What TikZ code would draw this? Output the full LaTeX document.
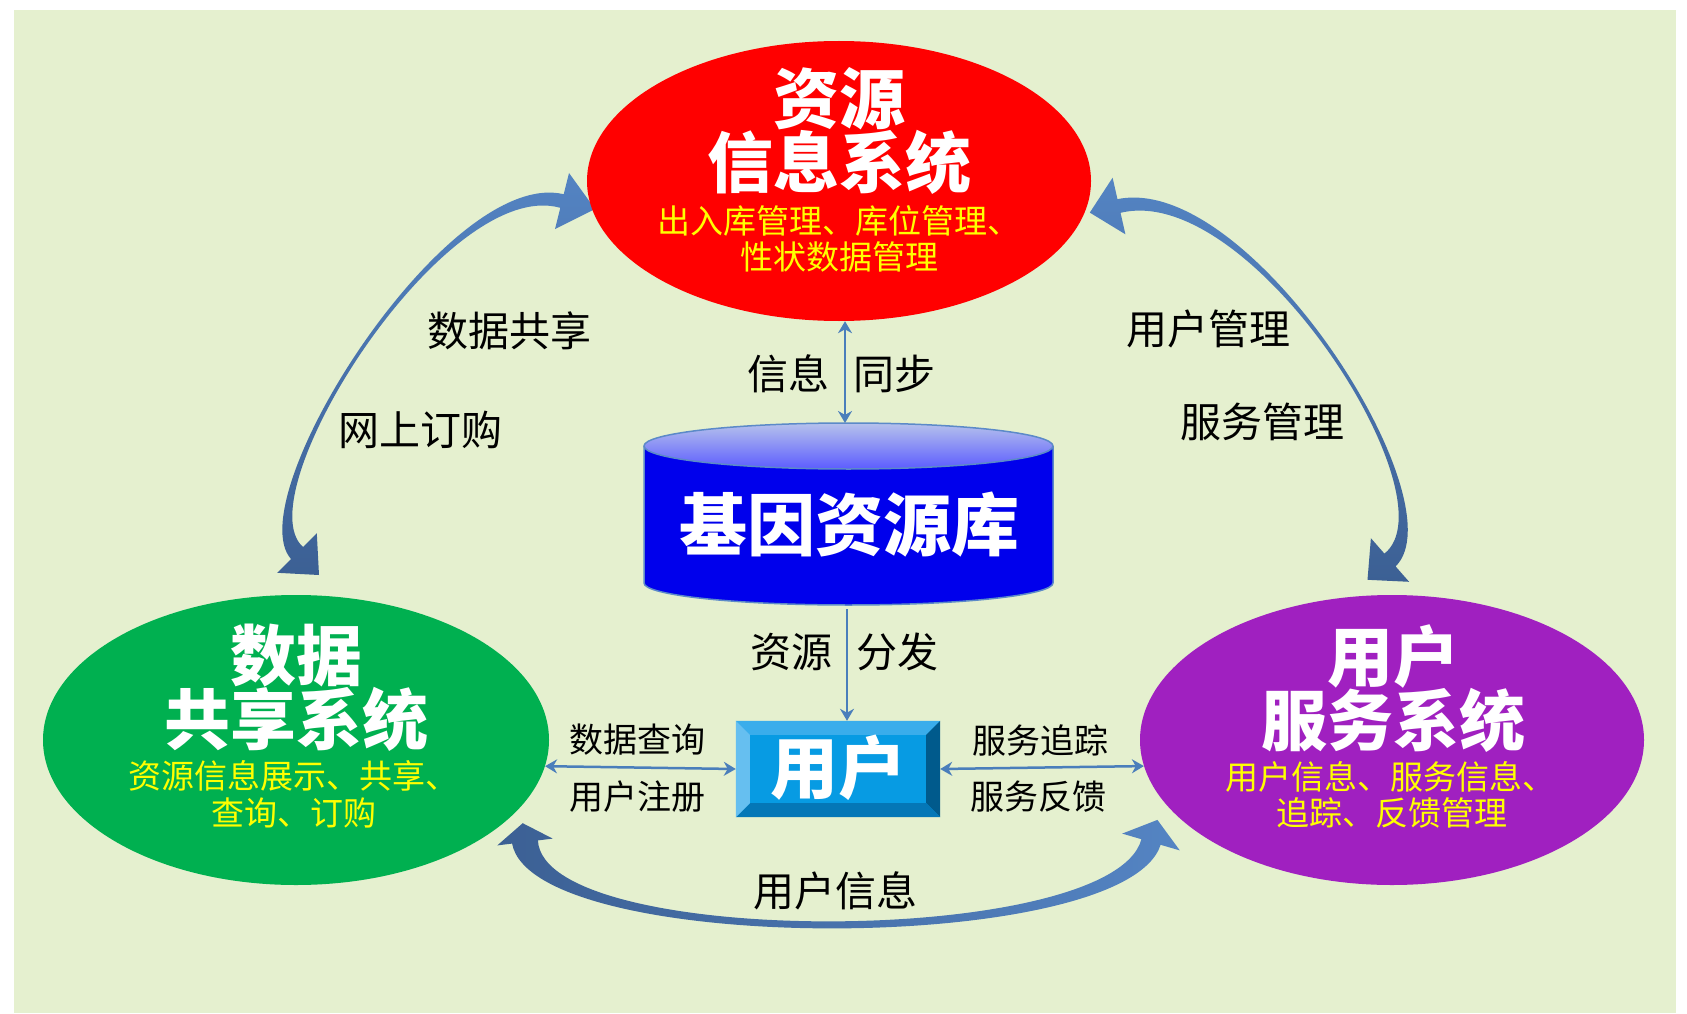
\documentclass[tikz,border=0pt]{standalone}
\usepackage{fontspec}
\newfontfamily\cjk{Noto Sans CJK SC}
\usetikzlibrary{arrows.meta,shapes.geometric,calc}
\definecolor{bg}{RGB}{229,240,207}
\definecolor{linkblue}{RGB}{74,126,187}
\definecolor{arclight}{RGB}{84,132,195}
\definecolor{arcdark}{RGB}{60,96,148}
\definecolor{sysred}{RGB}{255,0,0}
\definecolor{sysgreen}{RGB}{0,176,80}
\definecolor{syspurple}{RGB}{160,32,192}
\definecolor{subyellow}{RGB}{255,255,0}
\definecolor{cylblue}{RGB}{0,0,236}
\definecolor{cyltop}{RGB}{182,194,236}
\definecolor{cylmid}{RGB}{92,92,255}
\definecolor{cyledge}{RGB}{92,138,200}
\definecolor{boxface}{RGB}{7,155,227}
\definecolor{boxtop}{RGB}{58,173,235}
\definecolor{boxleft}{RGB}{102,191,240}
\definecolor{boxright}{RGB}{0,90,140}
\definecolor{boxbottom}{RGB}{4,119,183}
\begin{document}
\begin{tikzpicture}[x=1pt,y=-1pt,
  sys/.style={ellipse,inner sep=0pt,draw=none},
  ttl/.style={text=white,inner sep=0pt,font=\cjk\bfseries\fontsize{66pt}{66pt}\selectfont},
  subt/.style={text=subyellow,inner sep=0pt,font=\cjk\fontsize{33pt}{33pt}\selectfont},
  lbl/.style={text=black,inner sep=0pt,font=\cjk\fontsize{41pt}{41pt}\selectfont},
  slbl/.style={text=black,inner sep=0pt,font=\cjk\fontsize{34pt}{34pt}\selectfont},
  link/.style={draw=linkblue,line width=2.5pt,>={Stealth[length=12pt,width=14pt]}},
]
\useasboundingbox (0,0) rectangle (1687,1014);
\fill[white] (0,0) rectangle (1687,1014);
\fill[bg] (14,10) rectangle (1676,1013);

% big curved arrows
\shade[top color=arclight,bottom color=arcdark]
  (291,559) .. controls (237.2,498.35) and (446.5,166.56) .. (563.75,194.2)
  -- (560.25,207.8) .. controls (445.1,175.44) and (243.6,494.45) .. (303,547) -- cycle
  (277.2,572.8) -- (319,575) -- (316.8,533.2) -- cycle
  (569,173) -- (595,209) -- (555,229) -- cycle;
\shade[top color=arclight,bottom color=arcdark]
  (1395.6,566.4) .. controls (1460.57,502.59) and (1250.1,171.67) .. (1117.46,199.17)
  -- (1120.54,212.83) .. controls (1251.1,180.93) and (1454.43,498.61) .. (1384.4,553.6) -- cycle
  (1409.1,581.8) -- (1367.5,579.8) -- (1370.9,538.2) -- cycle
  (1112.6,177.7) -- (1089.8,212.6) -- (1125.4,234.3) -- cycle;
\shade[left color=arcdark,right color=arclight]
  (512.1,843.6) .. controls (533.3,956.6) and (1125.2,956.3) .. (1160.6,844.8)
  -- (1141.4,839.2) .. controls (1112.8,947.8) and (543.5,949.3) .. (537.9,840.4) -- cycle
  (497.3,845.4) -- (522.7,823.2) -- (552.7,838.6) -- cycle
  (1122.2,833.6) -- (1157.4,819.9) -- (1179.8,850.4) -- cycle;

% system ellipses
\node[sys,fill=sysred,minimum width=504pt,minimum height=280pt] (red) at (839,181) {};
\node[sys,fill=sysgreen,minimum width=506pt,minimum height=290pt] (green) at (296,740) {};
\node[sys,fill=syspurple,minimum width=504pt,minimum height=290pt] (purple) at (1392,740) {};

\node[ttl] (redt1) at (839,99) {资源};
\node[ttl] (redt2) at (839,162) {信息系统};
\node[subt] (reds1) at (839,221) {出入库管理、库位管理、};
\node[subt] (reds2) at (839,257) {性状数据管理};

\node[ttl] (greent1) at (296,656) {数据};
\node[ttl] (greent2) at (296,719) {共享系统};
\node[subt] (greens1) at (293,776) {资源信息展示、共享、};
\node[subt] (greens2) at (294,813) {查询、订购};

\node[ttl] (purt1) at (1393,657) {用户};
\node[ttl] (purt2) at (1393,720) {服务系统};
\node[subt] (purs1) at (1390,777) {用户信息、服务信息、};
\node[subt] (purs2) at (1392,813) {追踪、反馈管理};

% cylinder
\fill[cylblue] (644,446) rectangle (1053,583);
\fill[cylblue] (848.5,583) ellipse [x radius=204.5, y radius=22];
\shade[top color=cyltop,bottom color=cylmid] (848.5,446) ellipse [x radius=204.5, y radius=23];
\draw[cyledge,line width=1.5pt] (644,446) -- (644,583) arc[start angle=180,end angle=0,x radius=204.5,y radius=22] -- (1053,446);
\draw[cyledge,line width=1.5pt] (848.5,446) ellipse [x radius=204.5, y radius=23];
\node[ttl,font=\cjk\bfseries\fontsize{68pt}{68pt}\selectfont] (cyl) at (849,525) {基因资源库};
\coordinate (cyltop) at (845,423);
\coordinate (cylbot) at (847,609);

% user box
\node[rectangle,fill=boxface,minimum width=204pt,minimum height=96pt,inner sep=0pt] (ub) at (838,769) {};
\fill[boxtop] (ub.north west) -- (ub.north east) -- ($(ub.north east)+(-14,14)$) -- ($(ub.north west)+(14,14)$) -- cycle;
\fill[boxright] (ub.north east) -- (ub.south east) -- ($(ub.south east)+(-14,-14)$) -- ($(ub.north east)+(-14,14)$) -- cycle;
\fill[boxbottom] (ub.south east) -- (ub.south west) -- ($(ub.south west)+(14,-14)$) -- ($(ub.south east)+(-14,-14)$) -- cycle;
\fill[boxleft] (ub.south west) -- (ub.north west) -- ($(ub.north west)+(14,14)$) -- ($(ub.south west)+(14,-14)$) -- cycle;
\node[ttl,font=\cjk\bfseries\fontsize{68pt}{68pt}\selectfont] (ubt) at (838,768) {用户};

% thin connectors
\draw[link,<->] (red.south -| cyltop) -- (cyltop);
\draw[link,->] (cylbot) -- (cylbot |- ub.north);
\draw[link,<->] (green.-6.7) -- (ub.west);
\draw[link,<->] (ub.east) -- (purple.186.7);

% labels
\node[lbl] (l1) at (509,331) {数据共享};
\node[lbl] (l2) at (420,430) {网上订购};
\node[lbl] (l3) at (1208,329) {用户管理};
\node[lbl] (l4) at (1262,422) {服务管理};
\node[lbl] (l5) at (788,374) {信息};
\node[lbl] (l6) at (894,374) {同步};
\node[lbl] (l7) at (791,652) {资源};
\node[lbl] (l8) at (897,652) {分发};
\node[slbl] (l9) at (637,740) {数据查询};
\node[slbl] (l10) at (637,797) {用户注册};
\node[slbl] (l11) at (1040,740) {服务追踪};
\node[slbl] (l12) at (1038,797) {服务反馈};
\node[lbl] (l13) at (835,891) {用户信息};
\end{tikzpicture}
\end{document}
